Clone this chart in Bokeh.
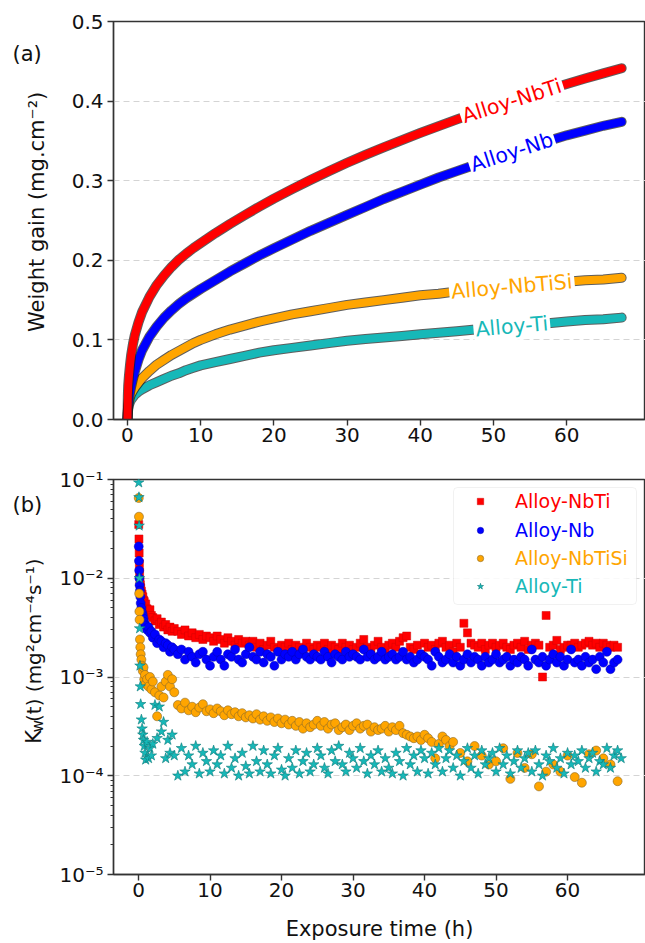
import math
from bokeh.plotting import figure
from bokeh.layouts import column, row
from bokeh.models import (Label, Legend, LegendItem, BoxAnnotation, FixedTicker,
                          NumeralTickFormatter, CustomJSTickFormatter, LogTicker, Range1d)
from bokeh.embed import file_html
from bokeh.resources import INLINE

FONT = "DejaVu Sans"

names = ["Alloy-NbTi", "Alloy-Nb", "Alloy-NbTiSi", "Alloy-Ti"]
colors = ["#ff0000", "#0000ff", "#ffa500", "#17b8b8"]

# ---------------- panel (a): weight gain ----------------
t_gain = [0, 0.05, 0.1, 0.2, 0.35, 0.5, 0.75, 1, 1.5, 2, 3, 4, 5, 6, 7, 8, 9, 10, 12, 14, 16, 18,
          20, 22.5, 25, 27.5, 30, 32.5, 35, 37.5, 40, 42.5, 45, 47.5, 50, 52.5, 55, 57.5, 60,
          62.5, 65, 67.5]
gain_nbti = [0.0, 0.030, 0.043, 0.055, 0.069, 0.081, 0.095, 0.106, 0.122, 0.135, 0.154, 0.169,
             0.181, 0.1915, 0.2005, 0.2083, 0.2153, 0.2217, 0.2341, 0.2457, 0.2567, 0.2673,
             0.2775, 0.2895, 0.301, 0.312, 0.3225, 0.3325, 0.342, 0.351, 0.360, 0.3685, 0.377,
             0.385, 0.3928, 0.4003, 0.4075, 0.4145, 0.4215, 0.4283, 0.4348, 0.4413]
gain_nb = [0.0, 0.012, 0.018, 0.026, 0.034, 0.041, 0.051, 0.060, 0.075, 0.087, 0.104, 0.117,
           0.128, 0.137, 0.145, 0.152, 0.158, 0.164, 0.175, 0.186, 0.196, 0.206, 0.215, 0.226,
           0.237, 0.247, 0.257, 0.267, 0.277, 0.286, 0.295, 0.304, 0.312, 0.320, 0.328, 0.336,
           0.343, 0.350, 0.357, 0.363, 0.369, 0.374]
gain_nbtisi = [0.0, 0.010, 0.016, 0.022, 0.028, 0.032, 0.036, 0.040, 0.046, 0.052, 0.061, 0.069,
               0.075, 0.081, 0.086, 0.091, 0.096, 0.100, 0.107, 0.113, 0.118, 0.123, 0.127, 0.132,
               0.136, 0.140, 0.144, 0.147, 0.150, 0.153, 0.156, 0.158, 0.161, 0.163, 0.165, 0.167,
               0.169, 0.171, 0.173, 0.175, 0.176, 0.178]
gain_ti = [0.0, 0.008, 0.013, 0.018, 0.022, 0.025, 0.028, 0.031, 0.035, 0.038, 0.043, 0.047,
           0.051, 0.055, 0.058, 0.062, 0.065, 0.068, 0.072, 0.076, 0.080, 0.084, 0.087, 0.090,
           0.093, 0.096, 0.099, 0.101, 0.103, 0.105, 0.107, 0.109, 0.111, 0.113, 0.115, 0.117,
           0.119, 0.121, 0.123, 0.125, 0.126, 0.128]
gains = [gain_nbti, gain_nb, gain_nbtisi, gain_ti]
label_time = 52.5

# ---------------- panel (b): Kw(t) ----------------
t_rate = [0.03, 0.06, 0.09, 0.12, 0.15, 0.2, 0.25, 0.3, 0.4, 0.5, 0.6, 0.7, 0.8, 0.9, 1.0,
          1.2, 1.4, 1.6, 1.8, 2.0, 2.3, 2.6, 2.9, 3.2, 3.5, 3.8, 4.1, 4.4, 4.7, 5.0,
          5.5, 6.0, 6.5, 7.0, 7.5, 8.0, 8.5, 9.0, 9.5, 10.0,
          10.5, 11.0, 11.5, 12.0, 12.5, 13.0, 13.5, 14.0, 14.5, 15.0,
          15.5, 16.0, 16.5, 17.0, 17.5, 18.0, 18.5, 19.0, 19.5, 20.0,
          20.5, 21.0, 21.5, 22.0, 22.5, 23.0, 23.5, 24.0, 24.5, 25.0,
          25.5, 26.0, 26.5, 27.0, 27.5, 28.0, 28.5, 29.0, 29.5, 30.0,
          30.5, 31.0, 31.5, 32.0, 32.5, 33.0, 33.5, 34.0, 34.5, 35.0,
          35.5, 36.0, 36.5, 37.0, 37.5, 38.0, 38.5, 39.0, 39.5, 40.0,
          40.5, 41.0, 41.5, 42.0, 42.5, 43.0, 43.5, 44.0, 44.5, 45.0,
          45.5, 46.0, 46.5, 47.0, 47.5, 48.0, 48.5, 49.0, 49.5, 50.0,
          50.5, 51.0, 51.5, 52.0, 52.5, 53.0, 53.5, 54.0, 54.5, 55.0,
          55.5, 56.0, 56.5, 57.0, 57.5, 58.0, 58.5, 59.0, 59.5, 60.0,
          60.5, 61.0, 61.5, 62.0, 62.5, 63.0, 63.5, 64.0, 64.5, 65.0,
          65.5, 66.0, 66.5, 67.0]

kw_nbti = [3.5e-2, 2.5e-2, 1.8e-2, 1.4e-2, 1.15e-2, 9.5e-3, 8.6e-3, 8.0e-3, 7.4e-3, 6.9e-3,
           6.5e-3, 6.0e-3, 5.8e-3, 5.3e-3, 5.5e-3, 4.9e-3, 4.6e-3, 4.8e-3, 4.2e-3, 4.0e-3,
           3.7e-3, 3.9e-3, 3.4e-3, 3.6e-3, 3.2e-3, 3.4e-3, 3.0e-3, 3.2e-3, 2.9e-3, 3.1e-3,
           2.9e-3, 2.7e-3, 3.0e-3, 2.6e-3, 2.8e-3, 2.5e-3, 2.7e-3, 2.4e-3, 2.6e-3, 2.5e-3,
           2.3e-3, 2.6e-3, 2.4e-3, 2.2e-3, 2.5e-3, 2.3e-3, 2.1e-3, 2.4e-3, 2.2e-3, 2.3e-3,
           2.1e-3, 2.3e-3, 2.0e-3, 2.2e-3, 1.9e-3, 2.1e-3, 2.3e-3, 2.0e-3, 1.9e-3, 2.1e-3,
           2.0e-3, 2.2e-3, 1.9e-3, 2.1e-3, 2.0e-3, 1.8e-3, 2.2e-3, 2.0e-3, 1.9e-3, 2.1e-3,
           2.0e-3, 2.2e-3, 1.9e-3, 2.1e-3, 2.0e-3, 1.9e-3, 2.2e-3, 2.0e-3, 2.1e-3, 1.9e-3,
           2.0e-3, 2.2e-3, 2.4e-3, 2.0e-3, 1.9e-3, 2.1e-3, 2.3e-3, 2.0e-3, 1.8e-3, 2.1e-3,
           2.2e-3, 2.0e-3, 2.3e-3, 2.5e-3, 2.6e-3, 2.0e-3, 1.9e-3, 2.1e-3, 1.7e-3, 2.2e-3,
           2.0e-3, 2.1e-3, 1.9e-3, 2.2e-3, 2.3e-3, 2.0e-3, 2.1e-3, 1.8e-3, 2.2e-3, 2.0e-3,
           3.5e-3, 2.8e-3, 2.2e-3, 2.1e-3, 2.0e-3, 2.2e-3, 1.9e-3, 2.1e-3, 2.2e-3, 2.0e-3,
           2.1e-3, 2.2e-3, 2.0e-3, 1.9e-3, 2.1e-3, 2.2e-3, 2.0e-3, 2.3e-3, 1.9e-3, 2.1e-3,
           2.2e-3, 2.1e-3, 1.0e-3, 4.2e-3, 2.0e-3, 2.1e-3, 2.35e-3, 1.9e-3, 2.0e-3, 2.1e-3,
           2.1e-3, 2.2e-3, 2.0e-3, 2.1e-3, 2.2e-3, 2.3e-3, 2.1e-3, 2.2e-3, 2.0e-3, 2.2e-3,
           2.1e-3, 2.0e-3, 2.1e-3, 2.0e-3]

kw_nb = [2.1e-2, 1.5e-2, 1.2e-2, 1.0e-2, 8.5e-3, 7.5e-3, 6.5e-3, 5.6e-3, 5.0e-3, 4.5e-3,
         4.2e-3, 3.9e-3, 3.6e-3, 3.4e-3, 3.3e-3, 3.0e-3, 3.2e-3, 2.8e-3, 2.9e-3, 2.5e-3,
         2.7e-3, 2.2e-3, 2.4e-3, 2.3e-3, 2.0e-3, 2.2e-3, 2.1e-3, 1.8e-3, 2.0e-3, 1.9e-3,
         1.7e-3, 1.9e-3, 1.5e-3, 1.8e-3, 1.6e-3, 1.4e-3, 1.7e-3, 1.8e-3, 1.5e-3, 1.3e-3,
         1.6e-3, 1.8e-3, 1.5e-3, 1.3e-3, 1.7e-3, 1.6e-3, 1.9e-3, 1.5e-3, 1.4e-3, 1.7e-3,
         2.0e-3, 1.6e-3, 1.5e-3, 1.8e-3, 1.4e-3, 1.7e-3, 1.6e-3, 1.3e-3, 1.8e-3, 1.5e-3,
         1.7e-3, 1.6e-3, 1.8e-3, 1.5e-3, 1.7e-3, 1.9e-3, 1.6e-3, 1.5e-3, 1.7e-3, 1.6e-3,
         1.5e-3, 1.8e-3, 1.6e-3, 1.4e-3, 1.7e-3, 1.6e-3, 1.5e-3, 1.8e-3, 1.6e-3, 1.7e-3,
         1.6e-3, 1.5e-3, 1.9e-3, 1.6e-3, 1.7e-3, 1.5e-3, 1.6e-3, 1.8e-3, 1.5e-3, 1.6e-3,
         1.7e-3, 1.5e-3, 1.6e-3, 1.8e-3, 1.5e-3, 1.6e-3, 1.4e-3, 1.5e-3, 1.7e-3, 1.6e-3,
         1.5e-3, 1.3e-3, 1.8e-3, 1.6e-3, 1.4e-3, 1.5e-3, 1.7e-3, 1.4e-3, 1.6e-3, 1.3e-3,
         1.5e-3, 1.7e-3, 1.4e-3, 1.6e-3, 1.5e-3, 1.3e-3, 1.6e-3, 1.4e-3, 1.5e-3, 1.7e-3,
         1.4e-3, 1.5e-3, 1.6e-3, 1.3e-3, 1.5e-3, 1.4e-3, 1.6e-3, 1.5e-3, 1.3e-3, 1.9e-3,
         1.5e-3, 1.4e-3, 1.6e-3, 1.3e-3, 1.5e-3, 1.7e-3, 1.4e-3, 1.6e-3, 1.3e-3, 1.5e-3,
         1.9e-3, 1.4e-3, 1.5e-3, 1.3e-3, 1.6e-3, 1.4e-3, 1.5e-3, 1.2e-3, 1.6e-3, 1.4e-3,
         1.8e-3, 1.2e-3, 1.4e-3, 1.5e-3]

t_rate_nbtisi = [0.03, 0.06, 0.09, 0.12, 0.15, 0.2, 0.25, 0.3, 0.4, 0.5, 0.6, 0.7, 0.8, 0.9, 1.0,
                 1.2, 1.4, 1.6, 1.8, 2.0, 2.3, 2.6, 2.9, 3.2, 3.5, 3.8, 4.1, 4.4, 4.7, 5.0,
                 5.5, 6.0, 6.5, 7.0, 7.5, 8.0, 8.5, 9.0, 9.5, 10.0,
                 10.5, 11.0, 11.5, 12.0, 12.5, 13.0, 13.5, 14.0, 14.5, 15.0,
                 15.5, 16.0, 16.5, 17.0, 17.5, 18.0, 18.5, 19.0, 19.5, 20.0,
                 20.5, 21.0, 21.5, 22.0, 22.5, 23.0, 23.5, 24.0, 24.5, 25.0,
                 25.5, 26.0, 26.5, 27.0, 27.5, 28.0, 28.5, 29.0, 29.5, 30.0,
                 30.5, 31.0, 31.5, 32.0, 32.5, 33.0, 33.5, 34.0, 34.5, 35.0,
                 35.5, 36.0, 36.5, 37.0, 37.5, 38.0, 38.5, 39.0, 39.5, 40.0,
                 40.5, 41.0, 41.5, 42.0, 42.5, 43.0, 43.5, 44.0,
                 45, 46, 47, 48, 49, 50, 51, 52, 53, 54, 55, 56, 57, 58, 59, 60,
                 61, 62, 63, 64, 65, 66, 67]
kw_nbtisi = [6.5e-2, 4.2e-2, 7.0e-3, 4.6e-3, 3.8e-3, 2.4e-3, 2.0e-3, 1.7e-3, 1.5e-3, 1.3e-3,
             1.15e-3, 1.25e-3, 9.5e-4, 1.05e-3, 8.5e-4, 9.5e-4, 8.0e-4, 1.0e-3, 7.5e-4, 9.0e-4,
             7.0e-4, 4.0e-4, 6.5e-4, 8.0e-4, 6.2e-4, 9.0e-4, 1.05e-3, 8.0e-4, 9.5e-4, 7.0e-4,
             5.2e-4, 4.8e-4, 5.5e-4, 4.6e-4, 5.0e-4, 4.4e-4, 4.9e-4, 5.3e-4, 4.5e-4, 4.7e-4,
             4.3e-4, 4.8e-4, 4.5e-4, 4.1e-4, 4.6e-4, 4.2e-4, 4.4e-4, 4.0e-4, 4.3e-4, 3.9e-4,
             4.1e-4, 3.8e-4, 4.2e-4, 3.7e-4, 4.0e-4, 3.6e-4, 3.9e-4, 3.5e-4, 3.8e-4, 3.4e-4,
             3.7e-4, 3.3e-4, 3.6e-4, 3.2e-4, 3.5e-4, 3.0e-4, 3.4e-4, 3.1e-4, 3.3e-4, 3.6e-4,
             3.2e-4, 3.5e-4, 3.0e-4, 3.3e-4, 3.4e-4, 2.9e-4, 3.1e-4, 3.3e-4, 2.9e-4, 3.2e-4,
             3.4e-4, 3.0e-4, 3.2e-4, 3.3e-4, 2.8e-4, 3.1e-4, 2.9e-4, 3.0e-4, 3.2e-4, 2.8e-4,
             3.1e-4, 2.9e-4, 3.2e-4, 2.7e-4, 2.6e-4, 2.5e-4, 2.4e-4, 2.5e-4, 2.3e-4, 2.6e-4,
             2.4e-4, 2.2e-4, 1.5e-4, 2.1e-4, 2.5e-4, 2.3e-4, 2.0e-4, 2.2e-4,
             1.7e-4, 1.4e-4, 2.0e-4, 1.6e-4, 1.3e-4, 1.4e-4, 1.9e-4, 9.3e-5, 1.7e-4, 1.2e-4,
             1.65e-4, 7.8e-5, 1.1e-4, 1.3e-4, 1.1e-4, 1.6e-4, 9.7e-5, 8.5e-5, 1.65e-4, 1.8e-4,
             1.5e-4, 1.3e-4, 8.8e-5]

t_rate_ti = t_rate + [67.5]
kw_ti = [9.3e-2, 6.6e-2, 3.4e-2, 1.0e-2, 3.1e-3, 1.3e-3, 8.0e-4, 5.3e-4, 3.7e-4, 3.0e-4,
         2.6e-4, 2.3e-4, 2.0e-4, 1.7e-4, 1.45e-4, 2.2e-4, 1.5e-4, 1.9e-4, 1.6e-4, 2.1e-4,
         5.2e-4, 2.4e-4, 5.0e-4, 2.8e-4, 3.5e-4, 1.5e-4, 2.3e-4, 1.7e-4, 2.6e-4, 1.6e-4,
         1.0e-4, 1.9e-4, 1.1e-4, 1.6e-4, 1.3e-4, 2.0e-4, 1.05e-4, 1.7e-4, 1.4e-4, 1.1e-4,
         1.8e-4, 1.3e-4, 1.6e-4, 1.05e-4, 2.0e-4, 1.2e-4, 1.5e-4, 1.0e-4, 1.7e-4, 1.25e-4,
         1.05e-4, 2.0e-4, 1.4e-4, 1.1e-4, 1.8e-4, 1.3e-4, 1.05e-4, 1.6e-4, 1.9e-4, 1.15e-4,
         1.0e-4, 1.5e-4, 1.2e-4, 1.8e-4, 1.05e-4, 1.4e-4, 1.7e-4, 1.1e-4, 1.3e-4, 1.9e-4,
         1.6e-4, 1.2e-4, 1.05e-4, 1.8e-4, 1.4e-4, 2.0e-4, 1.3e-4, 1.1e-4, 1.7e-4, 1.5e-4,
         1.2e-4, 1.9e-4, 1.4e-4, 1.05e-4, 1.6e-4, 1.3e-4, 1.8e-4, 1.1e-4, 1.5e-4, 1.2e-4,
         1.05e-4, 1.7e-4, 1.4e-4, 1.0e-4, 1.9e-4, 1.3e-4, 1.6e-4, 1.1e-4, 1.8e-4, 1.5e-4,
         1.05e-4, 1.7e-4, 1.3e-4, 1.9e-4, 1.1e-4, 1.5e-4, 1.8e-4, 1.2e-4, 1.6e-4, 1.0e-4,
         1.4e-4, 1.9e-4, 1.2e-4, 1.6e-4, 1.05e-4, 1.8e-4, 1.3e-4, 1.5e-4, 1.7e-4, 1.1e-4,
         1.9e-4, 1.3e-4, 1.6e-4, 1.05e-4, 1.4e-4, 1.8e-4, 1.2e-4, 1.5e-4, 1.7e-4, 1.1e-4,
         1.8e-4, 1.3e-4, 1.0e-4, 1.6e-4, 1.4e-4, 1.9e-4, 1.2e-4, 1.5e-4, 1.05e-4, 1.7e-4,
         1.3e-4, 1.6e-4, 1.4e-4, 1.8e-4, 1.2e-4, 1.5e-4, 1.7e-4, 1.1e-4, 1.4e-4, 1.3e-4,
         1.9e-4, 1.2e-4, 1.6e-4, 1.8e-4, 1.5e-4]

x_ticks = [0, 10, 20, 30, 40, 50, 60]
gain_ticks = [0.0, 0.1, 0.2, 0.3, 0.4, 0.5]

# ---------------- layout constants ----------------
W = 645
STRIP = 52            # left strip holding panel letters and y-axis titles
LEFT = 113 - STRIP    # border of the main figures (tick labels)
WM = W - STRIP
AX = "#333333"
GRID = "#d4d4d4"
TXT = "#111111"


def style(p):
    p.outline_line_color = AX
    p.outline_line_width = 1.4
    p.background_fill_color = "white"
    p.border_fill_color = "white"
    p.xgrid.visible = False
    p.ygrid.grid_line_color = GRID
    p.ygrid.grid_line_dash = "6 4"
    p.ygrid.grid_line_width = 1
    for ax in p.axis:
        ax.axis_line_color = AX
        ax.axis_line_width = 1.4
        ax.major_tick_line_color = AX
        ax.major_tick_line_width = 1.4
        ax.major_tick_out = 6
        ax.major_tick_in = 0
        ax.major_label_text_font = FONT
        ax.major_label_text_font_size = "20px"
        ax.major_label_text_color = TXT
        ax.axis_label_text_font = FONT
        ax.axis_label_text_font_size = "21px"
        ax.axis_label_text_font_style = "normal"
        ax.axis_label_text_color = TXT
    p.xaxis.ticker = FixedTicker(ticks=x_ticks)
    p.xaxis.minor_tick_line_color = None
    p.xaxis.major_label_standoff = 2
    p.yaxis.major_label_standoff = 4


def strip(height):
    s = figure(width=STRIP, height=height, x_range=Range1d(0, STRIP), y_range=Range1d(0, height),
               output_backend="svg", toolbar_location=None, min_border=0,
               x_axis_location=None, y_axis_location=None)
    s.outline_line_color = None
    s.grid.visible = False
    s.background_fill_color = "white"
    s.border_fill_color = "white"
    return s


# ---------------- figure (a) ----------------
H1 = 460
TOP1, BOT1 = 21, 41
X1 = (-1.91, 70.76)
p1 = figure(width=WM, height=H1, x_range=Range1d(*X1), y_range=Range1d(0, 0.5),
            output_backend="svg", toolbar_location=None,
            min_border_left=LEFT, min_border_right=0, min_border_top=TOP1, min_border_bottom=BOT1)
style(p1)
p1.yaxis.ticker = FixedTicker(ticks=gain_ticks)
p1.yaxis.formatter = NumeralTickFormatter(format="0.0")
p1.yaxis.minor_tick_line_color = None

for g, col in list(zip(gains, colors))[::-1]:
    p1.line(t_gain, g, line_width=10, color="#1a1a1a", alpha=0.7, line_cap="round", line_join="round")
    p1.line(t_gain, g, line_width=8, color=col, line_cap="round", line_join="round")

frame_w = WM - LEFT
frame_h1 = H1 - TOP1 - BOT1
pxx = frame_w / (X1[1] - X1[0])
pxy = frame_h1 / 0.5
i = t_gain.index(label_time)
for name, g, col in zip(names, gains, colors):
    dx = (t_gain[i + 1] - t_gain[i - 1]) * pxx
    dy = (g[i + 1] - g[i - 1]) * pxy
    ang = math.atan2(dy, dx)
    p1.add_layout(Label(x=t_gain[i], y=g[i], text=name, angle=ang,
                        text_align="center", text_baseline="middle",
                        text_color=col, text_font=FONT, text_font_size="20.5px",
                        background_fill_color="white", padding=2))

s1 = strip(H1)
s1.add_layout(Label(x=12, y=H1 - 37, text="(a)", text_font=FONT, text_font_size="21px",
                    text_color=TXT, text_baseline="middle", text_align="left"))
s1.add_layout(Label(x=36, y=H1 - 220, text="Weight gain (mg.cm⁻²)", angle=math.pi / 2,
                    text_font=FONT, text_font_size="21px", text_color=TXT,
                    text_baseline="middle", text_align="center"))

# ---------------- figure (b) ----------------
H2 = 483
TOP2, BOT2 = 19, 67
p2 = figure(width=WM, height=H2, x_range=Range1d(-3.5, 70.9), y_range=Range1d(1e-5, 1e-1),
            y_axis_type="log", output_backend="svg", toolbar_location=None,
            min_border_left=LEFT, min_border_right=0, min_border_top=TOP2, min_border_bottom=BOT2)
style(p2)
p2.yaxis.ticker = LogTicker(num_minor_ticks=10)
p2.yaxis.minor_tick_line_color = AX
p2.yaxis.minor_tick_out = 3
p2.yaxis.minor_tick_in = 0
p2.yaxis.formatter = CustomJSTickFormatter(code="""
const e = Math.round(Math.log10(tick));
const sup = {'-':'\u207b','0':'\u2070','1':'\u00b9','2':'\u00b2','3':'\u00b3','4':'\u2074',
             '5':'\u2075','6':'\u2076','7':'\u2077','8':'\u2078','9':'\u2079'};
return '10' + String(e).split('').map(c => sup[c]).join('');
""")
p2.xaxis.axis_label = "Exposure time (h)"
p2.xaxis.axis_label_standoff = 17

r_nbti = p2.scatter(t_rate, kw_nbti, marker="square", size=8, fill_color=colors[0],
                    line_color="#d00000", line_width=0.5)
r_nb = p2.scatter(t_rate, kw_nb, marker="circle", size=9, fill_color=colors[1],
                  line_color="#0000b0", line_width=0.5)
r_nbtisi = p2.scatter(t_rate_nbtisi, kw_nbtisi, marker="circle", size=9, fill_color=colors[2],
                      line_color="#8a6a2a", line_width=0.6)
r_ti = p2.scatter(t_rate_ti, kw_ti, marker="star", size=11, fill_color=colors[3],
                  line_color="#0b7a7a", line_width=0.6)
renderers = [r_nbti, r_nb, r_nbtisi, r_ti]

# legend frame (screen units, relative to the plot frame)
p2.add_layout(BoxAnnotation(left=340, right=523, top=387, bottom=270,
                            left_units="screen", right_units="screen",
                            top_units="screen", bottom_units="screen",
                            fill_color="white", fill_alpha=0.85,
                            line_color="#cfcfcf", line_width=1, border_radius=4))
row_centers = [373, 344, 316, 288]
for name, col, r, cy in zip(names, colors, renderers, row_centers):
    lg = Legend(items=[LegendItem(label=name, renderers=[r])], location=(357, cy - 11),
                padding=0, margin=0, spacing=0, glyph_width=20, glyph_height=16,
                label_standoff=25, label_text_font=FONT, label_text_font_size="19px",
                label_text_color=col, border_line_alpha=0, background_fill_alpha=0)
    p2.add_layout(lg)

s2 = strip(H2)
s2.add_layout(Label(x=12, y=H2 - 31, text="(b)", text_font=FONT, text_font_size="21px",
                    text_color=TXT, text_baseline="middle", text_align="left"))
# composed y-axis title: K_w(t) (mg²cm⁻⁴s⁻¹), reading bottom to top
y0 = H2 - 323
s2.add_layout(Label(x=33, y=y0, text="K", angle=math.pi / 2, text_font=FONT,
                    text_font_size="21px", text_color=TXT,
                    text_baseline="alphabetic", text_align="left"))
s2.add_layout(Label(x=37, y=y0 + 14, text="w", angle=math.pi / 2, text_font=FONT,
                    text_font_size="15px", text_color=TXT,
                    text_baseline="alphabetic", text_align="left"))
s2.add_layout(Label(x=33, y=y0 + 26.5, text="(t) (mg²cm⁻⁴s⁻¹)", angle=math.pi / 2,
                    text_font=FONT, text_font_size="20px", text_color=TXT,
                    text_baseline="alphabetic", text_align="left"))

layout = column(row(s1, p1, spacing=0), row(s2, p2, spacing=0), spacing=0)
with open("out.html", "w", encoding="utf-8") as f:
    f.write(file_html(layout, INLINE))
